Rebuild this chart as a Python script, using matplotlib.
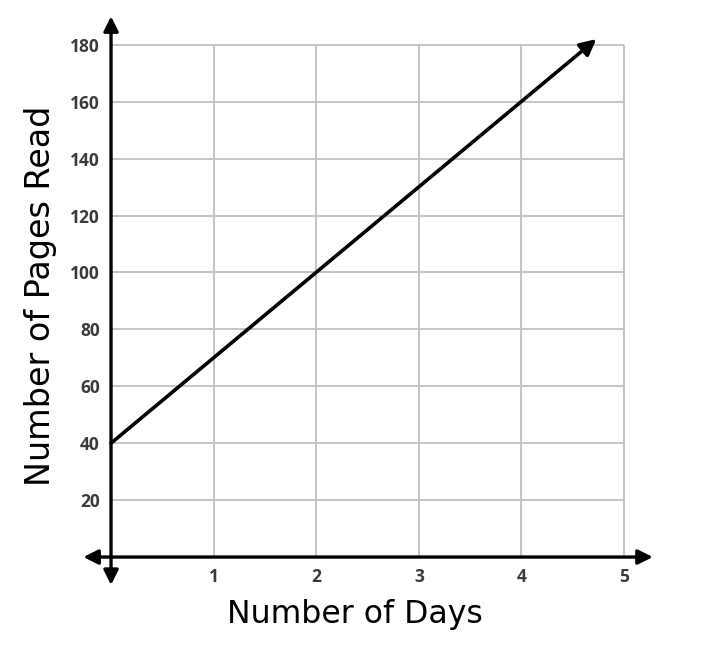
import matplotlib.pyplot as plt

# data
days = [0, 4.73]
pages = [40, 182]
x_ticks = [1, 2, 3, 4, 5]
y_ticks = [20, 40, 60, 80, 100, 120, 140, 160, 180]

fig = plt.figure(figsize=(7.22, 6.68), dpi=100)
# axes placed so that the data frame lands where the reference has it
ax = fig.add_axes([82.3 / 722, (668 - 585.5) / 668, 570.5 / 722, 569.2 / 668])
ax.set_xlim(-0.28, 5.28)
ax.set_ylim(-10, 190)
# spines moved to zero so the tick labels sit next to the drawn axes
ax.spines['left'].set_position(('data', 0))
ax.spines['bottom'].set_position(('data', 0))
for s in ax.spines.values():
    s.set_color('none')

# grid only inside 0..5, 0..180
grid_c = '#c4c4c4'
ax.vlines(x_ticks, 0, 180, color=grid_c, lw=1.4, zorder=1)
ax.hlines(y_ticks, 0, 5, color=grid_c, lw=1.4, zorder=1)

# axes with arrows on both ends
arr = dict(arrowstyle='<|-|>', color='black', lw=2.4, mutation_scale=22,
           shrinkA=0, shrinkB=0)
ax.annotate('', xy=(5.28, 0), xytext=(-0.27, 0), arrowprops=arr, zorder=3)
ax.annotate('', xy=(0, 190), xytext=(0, -9.8), arrowprops=arr, zorder=3)

# the line itself
ax.annotate('', xy=(days[1], pages[1]), xytext=(days[0], pages[0]),
            arrowprops=dict(arrowstyle='-|>', color='black', lw=2.6,
                            mutation_scale=24, shrinkA=0, shrinkB=0), zorder=4)

tick_font = dict(family='Open Sans', weight='bold', size=12.5, color='#3a3a3a')
ax.set_xticks(x_ticks)
ax.set_xticklabels([str(t) for t in x_ticks], **tick_font)
ax.set_yticks(y_ticks)
ax.set_yticklabels([str(t) for t in y_ticks], **tick_font)
ax.tick_params(length=0)
ax.tick_params(axis='y', pad=8)
ax.tick_params(axis='x', pad=8)

fig.text(355 / 722, 1 - 614 / 668, 'Number of Days', ha='center', va='center',
         family='DejaVu Sans', fontsize=22.7)
fig.text(41 / 722, 1 - 296 / 668, 'Number of Pages Read', ha='center', va='center',
         rotation=90, family='DejaVu Sans', fontsize=24)

fig.savefig('out.png', dpi=100)
